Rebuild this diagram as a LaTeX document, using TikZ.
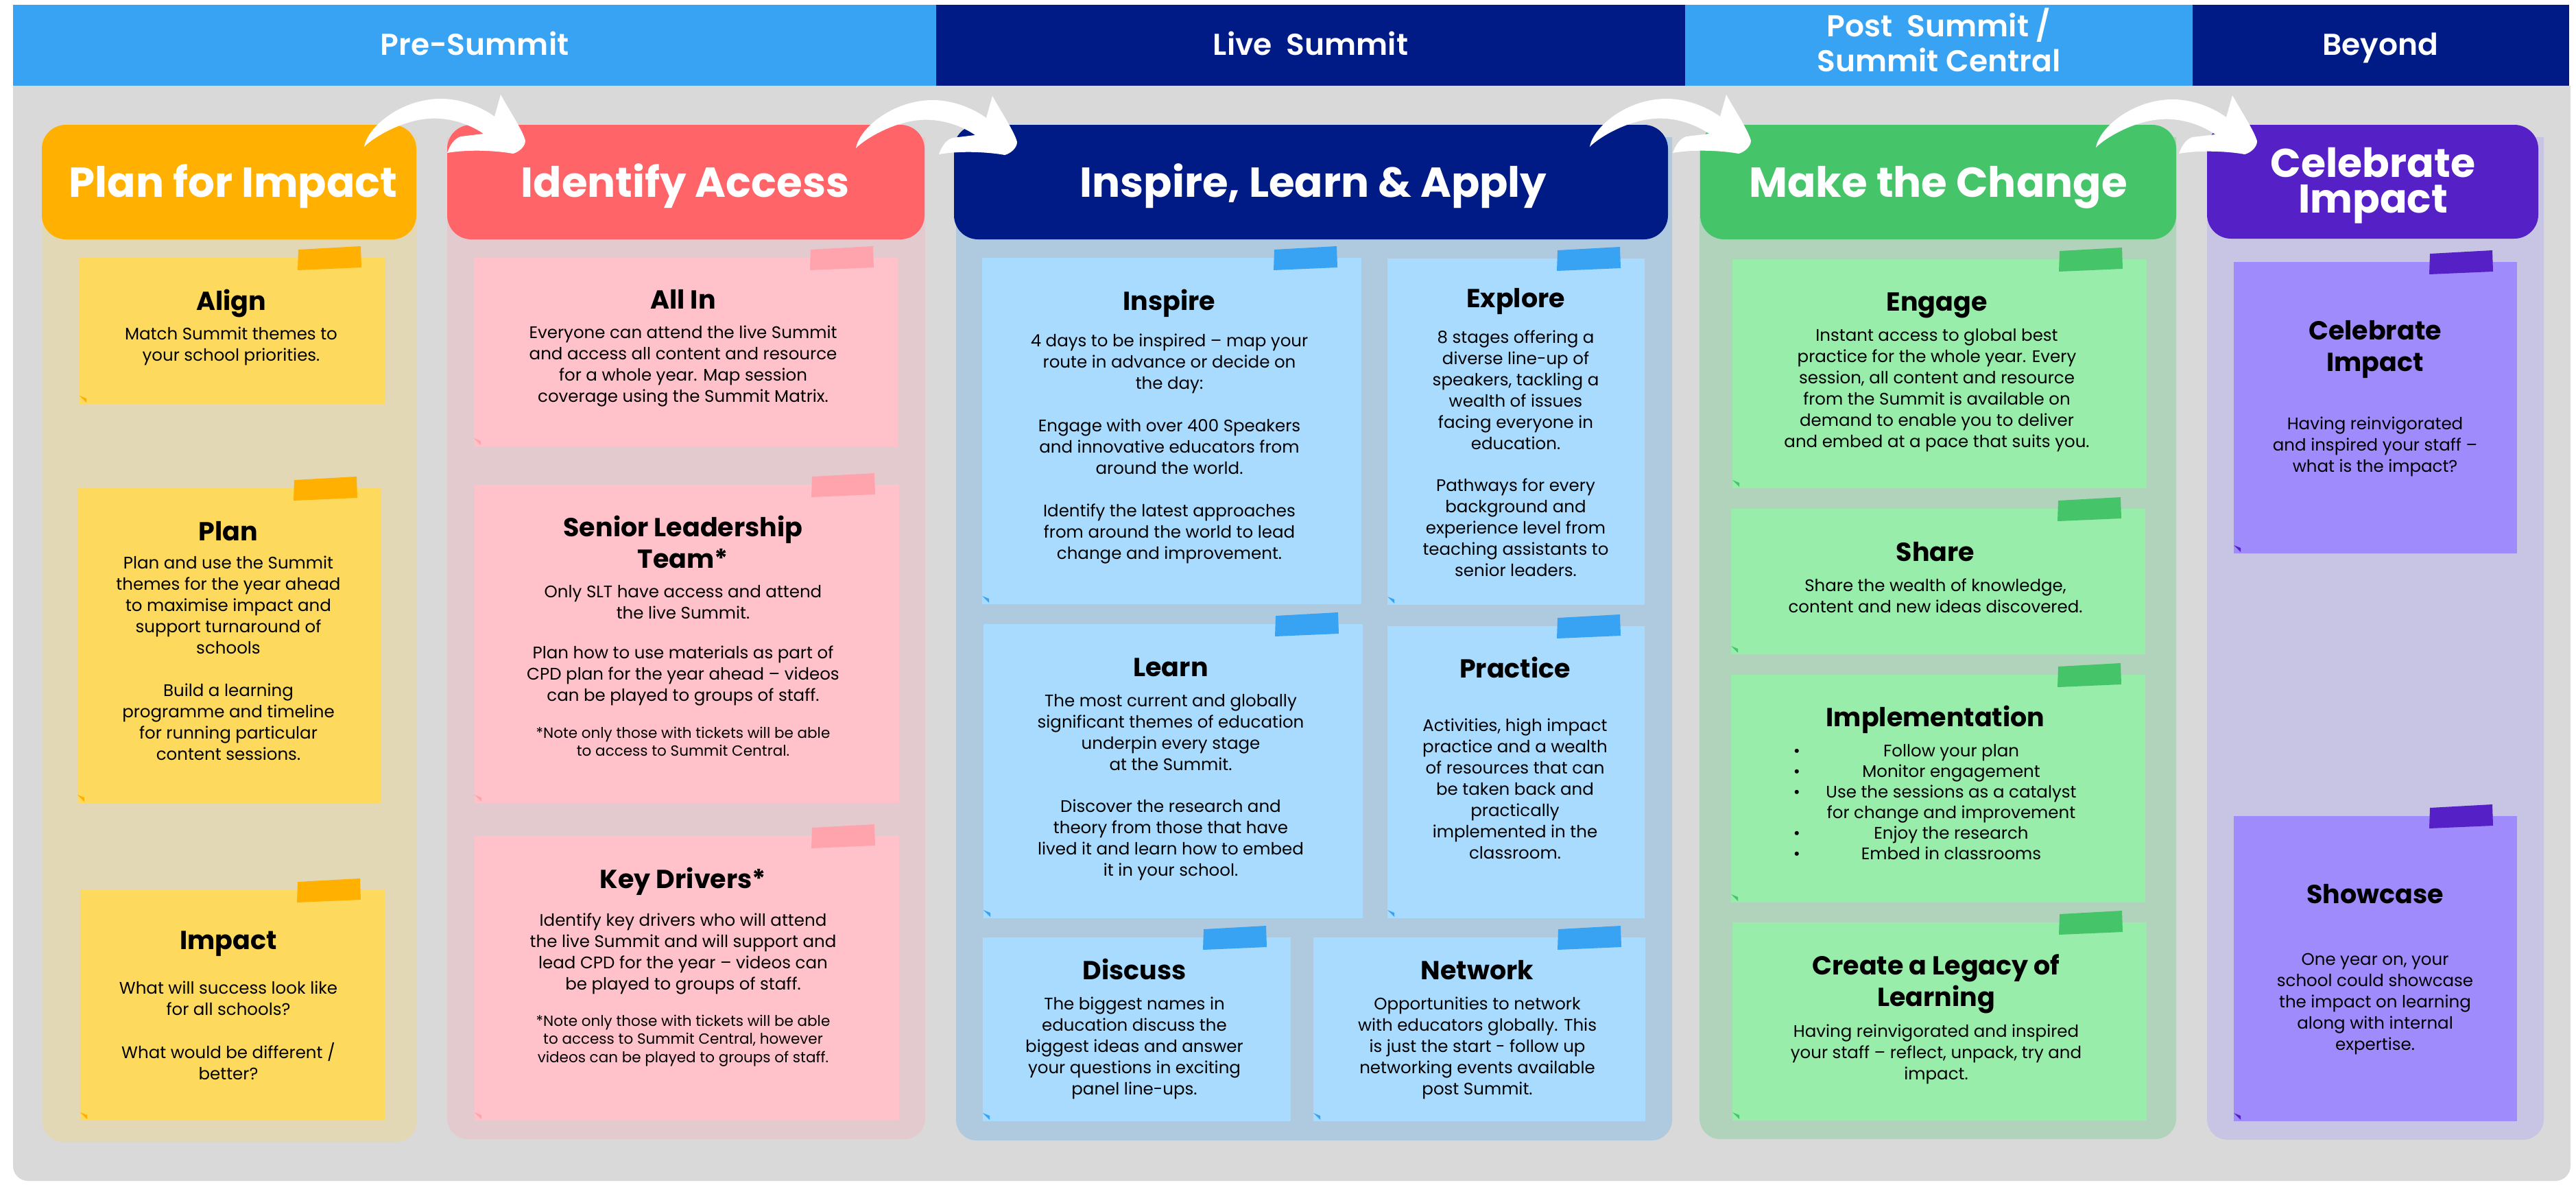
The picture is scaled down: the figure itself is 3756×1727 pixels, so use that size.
\documentclass[tikz,border=0pt]{standalone}
\usepackage{fontspec}
\setmainfont{Poppins}
\newfontfamily\popsemi{Poppins SemiBold}
\definecolor{grayBG}{HTML}{D9D9D9}
\definecolor{hdrLight}{HTML}{38A2F3}
\definecolor{hdrDark}{HTML}{001B85}
\definecolor{yBox}{HTML}{FFB000}
\definecolor{yCol}{HTML}{E2D8B5}
\definecolor{yNote}{HTML}{FDDA5E}
\definecolor{pBox}{HTML}{FF6469}
\definecolor{pCol}{HTML}{E2CACE}
\definecolor{pNote}{HTML}{FFC2CA}
\definecolor{pTape}{HTML}{FFA3AD}
\definecolor{bCol}{HTML}{AFCADF}
\definecolor{bNote}{HTML}{A9DBFF}
\definecolor{gBox}{HTML}{46C46A}
\definecolor{gCol}{HTML}{B1D3BC}
\definecolor{gNote}{HTML}{98EDAA}
\definecolor{vBox}{HTML}{5520C5}
\definecolor{vCol}{HTML}{C8C4E3}
\definecolor{vNote}{HTML}{9F8BFC}
\tikzset{
  ttl/.style={anchor=north,inner sep=0,align=center,font=\bfseries\fontsize{38}{46}\selectfont},
  bdy/.style={anchor=north,inner sep=0,align=center,font=\fontsize{24.5}{31}\selectfont},
  sml/.style={anchor=north,inner sep=0,align=center,font=\fontsize{21.5}{26.5}\selectfont},
  bandtxt/.style={anchor=base,inner sep=0,text=white,font=\popsemi\fontsize{44}{50}\selectfont},
  boxtxt/.style={anchor=base,inner sep=0,text=white,font=\bfseries\fontsize{61}{52}\selectfont},
  hbox/.style={inner sep=0,outer sep=0,rounded corners=35pt},
  bandbox/.style={inner sep=0,outer sep=0,anchor=north west,minimum height=118pt},
}
% name, x0, y0, x1, y1, note colour, tape colour
\newcommand\note[7]{%
  \node[inner sep=0,outer sep=0,fill=#6,minimum width={(#4-#2)*1pt},minimum height={(#5-#3)*1pt}] (#1) at ({(#2+#4)/2},{(#3+#5)/2}) {};
  \fill[#7] ({#4-127},{#3-12}) -- ({#4-36},{#3-17}) -- ({#4-35},{#3+14}) -- ({#4-128},{#3+18}) -- cycle;
  \fill[#7] (#2,{#5-12}) -- ({#2+10},{#5-8}) -- ({#2+10},{#5-2}) -- cycle;
}
\newcommand\T[4]{\node[ttl] (#1) at (#2,{#3-34}) {\rule{0pt}{34pt}#4};}
\newcommand\Bd[4]{\node[bdy] (#1) at (#2,{#3-23}) {\rule{0pt}{23pt}#4};}
\newcommand\Sm[4]{\node[sml] (#1) at (#2,{#3-19}) {\rule{0pt}{19pt}#4};}
\newcommand\carrow[2]{%
  \begin{scope}[shift={(#1,#2)}]
  \fill[white] (531,214) .. controls (536,185) and (585,144) .. (643,144)
    .. controls (675,144) and (705,158) .. (721,170)
    -- (730,138)
    .. controls (745,165) and (762,190) .. (766,205)
    .. controls (766,214) and (756,222) .. (748,224)
    .. controls (720,219) and (680,218) .. (652,223)
    .. controls (656,212) and (662,202) .. (672,199)
    -- (705,195)
    .. controls (680,178) and (650,171) .. (625,173)
    .. controls (585,176) and (545,200) .. (531,214) -- cycle;
  \end{scope}}
\begin{document}
\begin{tikzpicture}[x=1pt,y=-1pt]
\useasboundingbox (0,0) rectangle (3756,1727);
\fill[white] (0,0) rectangle (3756,1727);
% grey field
\fill[grayBG,rounded corners=22pt] (19,125) -- (19,1722) -- (3748,1722) -- (3748,125);
% header bands
\node[bandbox,fill=hdrLight,minimum width=1346pt] (bandPre) at (19,7) {};
\node[bandbox,fill=hdrDark,minimum width=1092pt] (bandLive) at (1365,7) {};
\node[bandbox,fill=hdrLight,minimum width=740pt] (bandPost) at (2457,7) {};
\node[bandbox,fill=hdrDark,minimum width=549pt] (bandBeyond) at (3197,7) {};
\node[bandtxt] (lPre) at (692,80) {Pre-Summit};
\node[bandtxt] (lLive) at (1911,80) {Live\ \ Summit};
\node[bandtxt,anchor=north,align=center,font=\popsemi\fontsize{44}{51}\selectfont] (lPost) at (2827,11) {\rule{0pt}{42pt}Post\ \ Summit /\\Summit Central};
\node[bandtxt] (lBeyond) at (3471,80) {Beyond};
% column backgrounds
\fill[yCol,rounded corners=30pt] (62,200) -- (62,1665) -- (608,1665) -- (608,200);
\fill[pCol,rounded corners=30pt] (652,200) -- (652,1661) -- (1349,1661) -- (1349,200);
\fill[bCol,rounded corners=30pt] (1394,200) -- (1394,1663) -- (2438,1663) -- (2438,200);
\fill[gCol,rounded corners=30pt] (2478,200) -- (2478,1661) -- (3173,1661) -- (3173,200);
\fill[vCol,rounded corners=30pt] (3218,200) -- (3218,1662) -- (3709,1662) -- (3709,200);
% header boxes
\node[hbox,fill=yBox,minimum width=546pt,minimum height=167pt] (hPlan) at (334,265.5) {};
\node[hbox,fill=pBox,minimum width=696pt,minimum height=167pt] (hId) at (1000,265.5) {};
\node[hbox,fill=hdrDark,minimum width=1041pt,minimum height=167pt] (hIns) at (1911.5,265.5) {};
\node[hbox,fill=gBox,minimum width=694pt,minimum height=167pt] (hMake) at (2826,265.5) {};
\node[hbox,fill=vBox,minimum width=483pt,minimum height=166pt] (hCel) at (3459.5,265) {};
\node[boxtxt] (tPlanBox) at (340,287) {Plan for Impact};
\node[boxtxt] (tIdBox) at (999,287) {Identify Access};
\node[boxtxt] (tInsBox) at (1915,287) {Inspire, Learn \& Apply};
\node[boxtxt] (tMakeBox) at (2826,287) {Make the Change};
\node[boxtxt,anchor=north,align=center,font=\bfseries\fontsize{58.5}{52}\selectfont] (tCelBox) at (3460,213) {\rule{0pt}{45pt}Celebrate\\Impact};
% curved arrows
\carrow{0}{0}
\carrow{717}{2}
\carrow{1787}{0}
\carrow{2525}{1}
% ---- Plan for Impact
\note{nAlign}{116}{376}{562}{589}{yNote}{yBox}
\T{tAlign}{337}{452}{Align}
\Bd{bAlign}{337}{495}{Match Summit themes to\\your school priorities.}
\note{nPlan}{113}{712}{556}{1171}{yNote}{yBox}
\T{tPlan}{333}{788}{Plan}
\Bd{bPlan1}{333}{829}{Plan and use the Summit\\themes for the year ahead\\to maximise impact and\\support turnaround of\\schools}
\Bd{bPlan2}{333}{1015}{Build a learning\\programme and timeline\\for running particular\\content sessions.}
\note{nImpact}{117}{1298}{561}{1634}{yNote}{yBox}
\T{tImpact}{333}{1384}{Impact}
\Bd{bImpact1}{333}{1449}{What will success look like\\for all schools?}
\Bd{bImpact2}{333}{1543}{What would be different /\\better?}
% ---- Identify Access
\note{nAllIn}{691}{376}{1309}{651}{pNote}{pTape}
\T{tAllIn}{996}{450}{All In}
\Bd{bAllIn}{996}{493}{Everyone can attend the live Summit\\and access all content and resource\\for a whole year. Map session\\coverage using the Summit Matrix.}
\note{nSLT}{692}{707}{1311}{1171}{pNote}{pTape}
\T{tSLT}{996}{782}{Senior Leadership\\Team*}
\Bd{bSLT1}{996}{871}{Only SLT have access and attend\\the live Summit.}
\Bd{bSLT2}{996}{960}{Plan how to use materials as part of\\CPD plan for the year ahead – videos\\can be played to groups of staff.}
\Sm{sSLT}{996}{1076}{*Note only those with tickets will be able\\to access to Summit Central.}
\note{nKD}{692}{1219}{1311}{1634}{pNote}{pTape}
\T{tKD}{996}{1295}{Key Drivers*}
\Bd{bKD}{996}{1350}{Identify key drivers who will attend\\the live Summit and will support and\\lead CPD for the year – videos can\\be played to groups of staff.}
\Sm{sKD}{996}{1496}{*Note only those with tickets will be able\\to access to Summit Central, however\\videos can be played to groups of staff.}
% ---- Inspire, Learn & Apply
\note{nInspire}{1432}{376}{1985}{881}{bNote}{hdrLight}
\T{tInspire}{1705}{452}{Inspire}
\Bd{bIns1}{1705}{505}{4 days to be inspired – map your\\route in advance or decide on\\the day:}
\Bd{bIns2}{1705}{629}{Engage with over 400 Speakers\\and innovative educators from\\around the world.}
\Bd{bIns3}{1705}{753}{Identify the latest approaches\\from around the world to lead\\change and improvement.}
\note{nExplore}{2023}{377}{2398}{882}{bNote}{hdrLight}
\T{tExplore}{2210}{448}{Explore}
\Bd{bExp1}{2210}{500}{8 stages offering a\\diverse line-up of\\speakers, tackling a\\wealth of issues\\facing everyone in\\education.}
\Bd{bExp2}{2210}{716}{Pathways for every\\background and\\experience level from\\teaching assistants to\\senior leaders.}
\note{nLearn}{1434}{910}{1987}{1339}{bNote}{hdrLight}
\T{tLearn}{1707}{986}{Learn}
\Bd{bLearn1}{1707}{1030}{The most current and globally\\significant themes of education\\underpin every stage\\at the Summit.}
\Bd{bLearn2}{1707}{1184}{Discover the research and\\theory from those that have\\lived it and learn how to embed\\it in your school.}
\note{nPractice}{2023}{913}{2398}{1339}{bNote}{hdrLight}
\T{tPractice}{2209}{988}{Practice}
\Bd{bPractice}{2209}{1066}{Activities, high impact\\practice and a wealth\\of resources that can\\be taken back and\\practically\\implemented in the\\classroom.}
\note{nDiscuss}{1433}{1367}{1882}{1635}{bNote}{hdrLight}
\T{tDiscuss}{1654}{1428}{Discuss}
\Bd{bDiscuss}{1654}{1472}{The biggest names in\\education discuss the\\biggest ideas and answer\\your questions in exciting\\panel line-ups.}
\note{nNetwork}{1915}{1367}{2399}{1635}{bNote}{hdrLight}
\T{tNetwork}{2154}{1428}{Network}
\Bd{bNetwork}{2154}{1472}{Opportunities to network\\with educators globally. This\\is just the start - follow up\\networking events available\\post Summit.}
% ---- Make the Change
\note{nEngage}{2526}{378}{3130}{712}{gNote}{gBox}
\T{tEngage}{2824}{453}{Engage}
\Bd{bEngage}{2824}{497}{Instant access to global best\\practice for the whole year. Every\\session, all content and resource\\from the Summit is available on\\demand to enable you to deliver\\and embed at a pace that suits you.}
\note{nShare}{2524}{742}{3128}{954}{gNote}{gBox}
\T{tShare}{2822}{818}{Share}
\Bd{bShare}{2822}{862}{Share the wealth of knowledge,\\content and new ideas discovered.}
\note{nImpl}{2524}{984}{3128}{1316}{gNote}{gBox}
\T{tImpl}{2822}{1059}{Implementation}
\node[bdy,font=\fontsize{24.5}{30}\selectfont] (bImpl) at (2845,1080) {\rule{0pt}{23pt}Follow your plan\\Monitor engagement\\Use the sessions as a catalyst\\for change and improvement\\Enjoy the research\\Embed in classrooms};
\foreach \yy/\nn in {1103/1,1133/2,1163/3,1223/4,1253/5}
  \node[anchor=base,inner sep=0,font=\fontsize{24.5}{30}\selectfont] (bul\nn) at (2620,\yy) {•};
\note{nLegacy}{2526}{1345}{3130}{1634}{gNote}{gBox}
\T{tLegacy}{2823}{1421}{Create a Legacy of\\Learning}
\Bd{bLegacy}{2823}{1512}{Having reinvigorated and inspired\\your staff – reflect, unpack, try and\\impact.}
% ---- Celebrate Impact
\note{nCel}{3257}{382}{3670}{807}{vNote}{vBox}
\T{tCel}{3463}{495}{Celebrate\\Impact}
\Bd{bCel}{3463}{626}{Having reinvigorated\\and inspired your staff –\\what is the impact?}
\note{nShow}{3257}{1190}{3670}{1635}{vNote}{vBox}
\T{tShow}{3463}{1317}{Showcase}
\Bd{bShow}{3463}{1407}{One year on, your\\school could showcase\\the impact on learning\\along with internal\\expertise.}
\end{tikzpicture}
\end{document}
